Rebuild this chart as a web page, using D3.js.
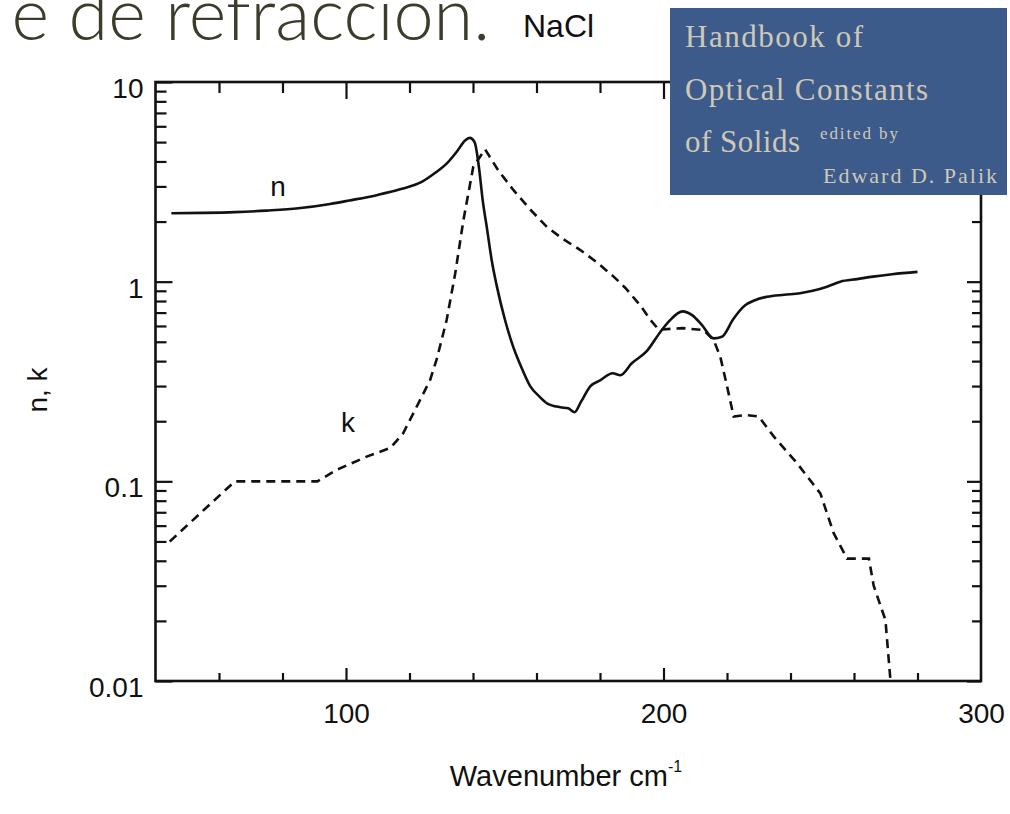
<!DOCTYPE html>
<html><head><meta charset="utf-8">
<script src="https://cdn.jsdelivr.net/npm/d3@7"></script>
<style>body{margin:0;background:#fff;overflow:hidden} svg{display:block}</style>
</head><body>
<svg id="c" width="1010" height="814"></svg>
<script>
// ---- data (wavenumber cm^-1, value) ----
const nWavenumber = [45,55,65,75,85,95,101,110,117,124,128,132,135,137.5,139,140.5,142,143,144.4,146,147.5,150,152.7,155,158,161,163.3,167.5,170,172,174,177,180,184,186.4,190,194.8,199,202,206,209,212,215.8,218.4,222,225.2,229,232.6,238,243,247,251.5,255.7,261,266,272,280];
const nValues = [2.2,2.21,2.23,2.27,2.33,2.45,2.55,2.72,2.9,3.17,3.5,3.95,4.5,5.1,5.25,5.0,3.6,2.6,1.85,1.25,0.95,0.65,0.47,0.38,0.30,0.265,0.246,0.235,0.232,0.222,0.25,0.30,0.32,0.348,0.34,0.39,0.45,0.56,0.64,0.71,0.68,0.61,0.52,0.53,0.65,0.75,0.81,0.84,0.86,0.875,0.9,0.944,1.0,1.03,1.06,1.09,1.12];
const kWavenumber = [44.5,65,91,97,106.5,114,118,122.3,126.5,128.6,131.7,134.4,137,140.1,143.8,148,152.7,158,163.3,168,173.8,179,184.3,188,192.7,196,198.5,206,212.6,215.8,217.9,220,222.1,226,230,234.7,242.1,249.4,253.6,257.8,264.7,266.2,269.9,271.5];
const kValues = [0.05,0.1,0.1,0.114,0.133,0.147,0.174,0.237,0.322,0.41,0.643,1.1,2.04,3.77,4.6,3.6,2.88,2.3,1.88,1.65,1.44,1.25,1.06,0.93,0.76,0.64,0.575,0.585,0.573,0.51,0.42,0.3,0.211,0.215,0.211,0.168,0.123,0.087,0.055,0.041,0.041,0.03,0.0202,0.01];
const xLabelTicks = [100,200,300];
const xMajorTicks = [100,200];
const xMinorTicks = [60,80,120,140,160,180,220,240,260,280];
const yMajorTicks = [0.01,0.1,1,10];
const yLabels = ["0.01","0.1","1","10"];
const yMinorTicks = [0.02,0.03,0.04,0.05,0.06,0.07,0.08,0.09,0.2,0.3,0.4,0.5,0.6,0.7,0.8,0.9,2,3,4,5,6,7,8,9];

const svg = d3.select("#c");
const L=155.5, R=981, T=82, B=681;
const x = d3.scaleLinear().domain([40,300]).range([L,R]);
const y = d3.scaleLog().domain([0.01,10]).range([B,T]);
const font = "'Liberation Sans', Arial, sans-serif";

// title fragment
svg.append("text").attr("x",490).attr("y",40).attr("text-anchor","end")
  .attr("font-family","Lato, 'Open Sans', sans-serif").attr("font-weight",300)
  .attr("font-size",72).attr("fill","#3d3b2b").text("e de refracción.");
svg.append("text").attr("x",523).attr("y",37).attr("font-family",font)
  .attr("font-size",32).attr("fill","#111").text("NaCl");

// axes ticks
function axisG(gen, tx, ty){
  const g = svg.append("g").attr("transform",`translate(${tx},${ty})`).call(gen);
  g.select(".domain").remove();
  g.selectAll("line").attr("stroke","#111").attr("stroke-width",2.2);
  g.selectAll("text").attr("font-family",font).attr("font-size",28).attr("fill","#111");
  return g;
}
axisG(d3.axisBottom(x).tickValues(xMinorTicks).tickSize(-8).tickFormat(""),0,B);
axisG(d3.axisBottom(x).tickValues(xMajorTicks).tickSize(-13).tickFormat(""),0,B);
axisG(d3.axisBottom(x).tickValues(xLabelTicks).tickSize(0).tickPadding(22).tickFormat(d3.format("d")),0,B);
axisG(d3.axisTop(x).tickValues(xMinorTicks).tickSize(-11).tickFormat(""),0,T);
axisG(d3.axisTop(x).tickValues(xMajorTicks).tickSize(-17).tickFormat(""),0,T);
axisG(d3.axisLeft(y).tickValues(yMinorTicks).tickSize(-11).tickFormat(""),L,0);
const gl = axisG(d3.axisLeft(y).tickValues(yMajorTicks).tickSize(-17).tickPadding(12)
  .tickFormat((d,i)=>yLabels[i]),L,0);
gl.selectAll("text").attr("dy","0.55em");
axisG(d3.axisRight(y).tickValues(yMinorTicks).tickSize(-9).tickFormat(""),R,0);
axisG(d3.axisRight(y).tickValues(yMajorTicks).tickSize(-14).tickFormat(""),R,0);

// frame
svg.append("rect").attr("x",L).attr("y",T).attr("width",R-L).attr("height",B-T)
  .attr("fill","none").attr("stroke","#111").attr("stroke-width",2.6);

// curves
const nData = nWavenumber.map((w,i)=>[w,nValues[i]]);
const kData = kWavenumber.map((w,i)=>[w,kValues[i]]);
const lineN = d3.line().x(d=>x(d[0])).y(d=>y(d[1])).curve(d3.curveMonotoneX);
const lineK = d3.line().x(d=>x(d[0])).y(d=>y(d[1]));
svg.append("path").attr("d",lineN(nData)).attr("fill","none").attr("stroke","#111").attr("stroke-width",2.6);
svg.append("path").attr("d",lineK(kData)).attr("fill","none").attr("stroke","#111")
  .attr("stroke-width",2.6).attr("stroke-dasharray","9,6");

// curve labels
svg.append("text").attr("x",278).attr("y",196).attr("text-anchor","middle")
  .attr("font-family",font).attr("font-size",28).attr("fill","#111").text("n");
svg.append("text").attr("x",348).attr("y",432).attr("text-anchor","middle")
  .attr("font-family",font).attr("font-size",28).attr("fill","#111").text("k");

// axis titles
const xt = svg.append("text").attr("x",566).attr("y",786).attr("text-anchor","middle")
  .attr("font-family",font).attr("font-size",29).attr("fill","#111");
xt.append("tspan").text("Wavenumber cm");
xt.append("tspan").attr("dy",-14).attr("font-size",16).text("-1");
svg.append("text").attr("transform","translate(47,390) rotate(-90)").attr("text-anchor","middle")
  .attr("font-family",font).attr("font-size",28).attr("fill","#111").text("n, k");

// book cover overlay
const cover = svg.append("g");
cover.append("rect").attr("x",670).attr("y",8).attr("width",337).attr("height",187).attr("fill","#3c5b8b");
const serif = "'Liberation Serif', 'DejaVu Serif', serif";
const cc = "#cfc8b6";
cover.append("text").attr("x",685).attr("y",47).attr("font-family",serif).attr("font-size",31)
  .attr("fill",cc).attr("textLength",178).text("Handbook of");
cover.append("text").attr("x",685).attr("y",100).attr("font-family",serif).attr("font-size",31)
  .attr("fill",cc).attr("textLength",243).text("Optical Constants");
cover.append("text").attr("x",685).attr("y",152).attr("font-family",serif).attr("font-size",31)
  .attr("fill",cc).attr("textLength",115).text("of Solids");
cover.append("text").attr("x",820).attr("y",139).attr("font-family",serif).attr("font-size",17)
  .attr("fill",cc).attr("textLength",78).text("edited by");
cover.append("text").attr("x",823).attr("y",183).attr("font-family",serif).attr("font-size",22)
  .attr("fill",cc).attr("textLength",174).text("Edward D. Palik");
</script>
</body></html>
